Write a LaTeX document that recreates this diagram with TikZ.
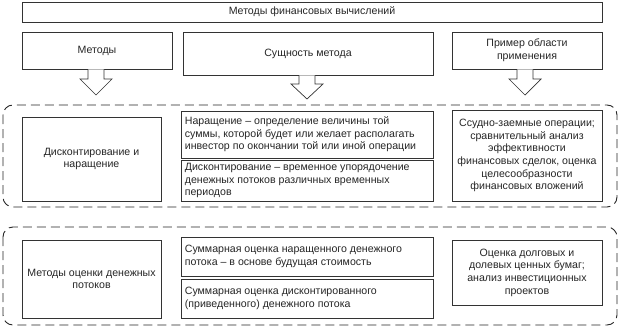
\documentclass[tikz,border=0pt]{standalone}
\usepackage{fontspec}
\setmainfont{Liberation Sans}
\begin{document}
\begin{tikzpicture}[x=1pt,y=-1pt,
  box/.style={draw=black!80, line width=0.7pt, fill=white, inner sep=0pt},
  txt/.style={font=\fontsize{10.6}{12.6}\selectfont, text=black!85, inner sep=0pt},
  group/.style={draw=black!85, line width=0.9pt, dash pattern=on 9pt off 5pt, rounded corners=10pt},
  harrow/.style={draw=black!80, line width=0.7pt, fill=white}]
\useasboundingbox (0,0) rectangle (624,332);
\newcommand{\bx}[6]{\node[#1, minimum width={#4-#2}, minimum height={#5-#3}] (#6) at ({(#2+#4)/2},{(#3+#5)/2}) {};}
% header row
\bx{box}{22}{2}{602}{22}{top}
\node[txt] (toptxt) at (top.center) {Методы финансовых вычислений};
\bx{box}{22}{32}{172}{69}{hm}
\node[txt] (hmt) at (hm.center) {Методы};
\bx{box}{183}{32}{433}{75}{hs}
\node[txt] (hst) at (hs.center) {Сущность метода};
\bx{box}{452}{32}{602}{69}{hp}
\node[txt, align=center] (hpt) at (hp.center) {Пример области\\применения};
% arrows
\foreach \n/\cx/\sb/\tp in {hm/96/79/95, hs/307/84/99, hp/525/79/95}{
  \path[harrow] (\n.south -| \cx-8,0)
    -- (\cx-8,\sb) -- (\cx-16,\sb) -- (\cx,\tp) -- (\cx+16,\sb) -- (\cx+8,\sb) -- (\n.south -| \cx+8,0);
}
% group 1
\draw[group] (3,105) rectangle (617,207);
\bx{box}{22}{117}{161}{201}{g1a}
\node[txt, align=center] at (g1a.center) {Дисконтирование и\\наращение};
\bx{box}{181}{111}{433}{158}{g1b}
\node[txt, align=left, anchor=west] at ([xshift=4pt]g1b.west) {Наращение – определение величины той\\суммы, которой будет или желает располагать\\инвестор по окончании той или иной операции};
\bx{box}{181}{160}{433}{201}{g1c}
\node[txt, align=left, anchor=west] at ([xshift=4pt]g1c.west) {Дисконтирование – временное упорядочение\\денежных потоков различных временных\\периодов};
\bx{box}{452}{110}{602}{201}{g1d}
\node[txt, align=center] at (g1d.center) {Ссудно-заемные операции;\\сравнительный анализ\\эффективности\\финансовых сделок, оценка\\целесообразности\\финансовых вложений};
% group 2
\draw[group] (3,227) rectangle (617,325);
\bx{box}{22}{240}{161}{318}{g2a}
\node[txt, align=center] at (g2a.center) {Методы оценки денежных\\потоков};
\bx{box}{181}{237}{433}{276}{g2b}
\node[txt, align=left, anchor=west] at ([xshift=4pt]g2b.west) {Суммарная оценка наращенного денежного\\потока – в основе будущая стоимость};
\bx{box}{181}{279}{433}{318}{g2c}
\node[txt, align=left, anchor=west] at ([xshift=4pt]g2c.west) {Суммарная оценка дисконтированного\\(приведенного) денежного потока};
\bx{box}{452}{240}{602}{305}{g2d}
\node[txt, align=center] at (g2d.center) {Оценка долговых и\\долевых ценных бумаг;\\анализ инвестиционных\\проектов};
\end{tikzpicture}
\end{document}
